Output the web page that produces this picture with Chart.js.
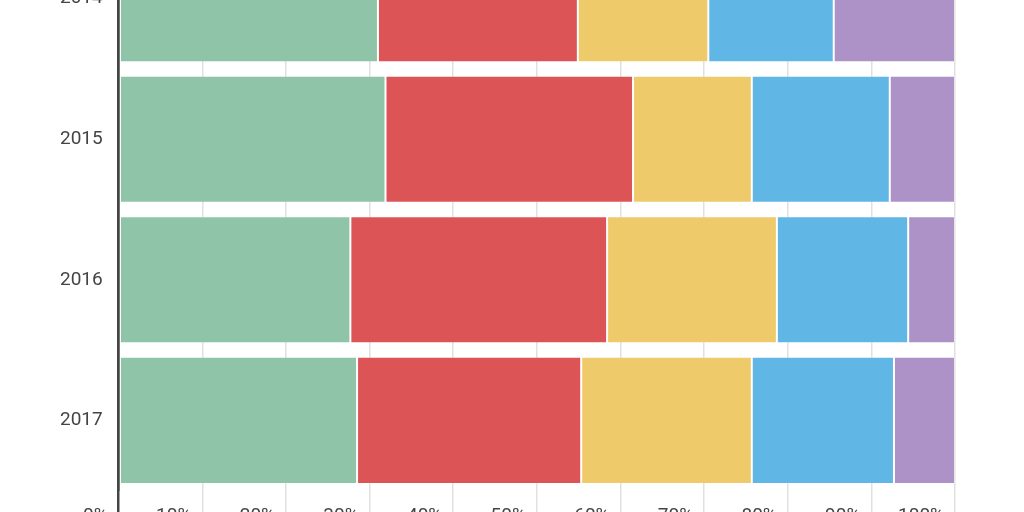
<!DOCTYPE html>
<html>
<head>
<meta charset="utf-8">
<script src="https://cdn.jsdelivr.net/npm/chart.js@4/dist/chart.umd.min.js"></script>
<style>
  html, body { margin: 0; padding: 0; background: #fff; overflow: hidden; }
  #wrap { position: absolute; left: 0; top: -99px; width: 1024px; height: 617px; }
</style>
</head>
<body>
<div id="wrap"><canvas id="chart"></canvas></div>
<script>
const years = ['2014', '2015', '2016', '2017'];

// share of each year, left to right
const greenVals  = [31.0, 31.9, 27.7, 28.5];
const redVals    = [23.9, 29.6, 30.7, 26.8];
const yellowVals = [15.6, 14.2, 20.3, 20.4];
const blueVals   = [15.0, 16.5, 15.7, 17.0];
const purpleVals = [14.5,  7.8,  5.6,  7.3];

const xTicks = [0, 10, 20, 30, 40, 50, 60, 70, 80, 90, 100];

const series = [
  { label: 'A', data: greenVals,  color: '#8fc4a8' },
  { label: 'B', data: redVals,    color: '#dd5456' },
  { label: 'C', data: yellowVals, color: '#eeca6b' },
  { label: 'D', data: blueVals,   color: '#60b6e4' },
  { label: 'E', data: purpleVals, color: '#ad92c8' },
];

Chart.defaults.font.family = 'Roboto, sans-serif';
Chart.defaults.color = '#444';

new Chart(document.getElementById('chart'), {
  type: 'bar',
  data: {
    labels: years,
    datasets: series.map(s => ({
      label: s.label,
      data: s.data,
      backgroundColor: s.color,
      borderColor: 'rgba(255,255,255,0.18)',
      borderWidth: 1,
      borderSkipped: false,
      barPercentage: 0.905,
      categoryPercentage: 1,
    }))
  },
  options: {
    indexAxis: 'y',
    responsive: true,
    maintainAspectRatio: false,
    animation: false,
    layout: { padding: { top: 10, right: 69, left: 44, bottom: 0 } },
    plugins: {
      legend: { display: false },
      tooltip: { enabled: false }
    },
    scales: {
      x: {
        stacked: true,
        min: 0,
        max: 100,
        afterBuildTicks: axis => { axis.ticks = xTicks.map(v => ({ value: v })); },
        ticks: {
          align: 'end',
          labelOffset: -11,
          padding: -11,
          font: { size: 19 },
          callback: v => v + '%'
        },
        grid: {
          // the zero line doubles as the dark left axis, down through the tick area
          color: ctx => (ctx.tick && ctx.tick.value === 0 ? '#444' : '#e0e0e0'),
          lineWidth: ctx => (ctx.tick && ctx.tick.value === 0 ? 2.5 : 1.5),
          tickLength: 25
        },
        border: { display: false }
      },
      y: {
        stacked: true,
        ticks: { padding: 16, font: { size: 19 } },
        grid: { display: false, drawTicks: false },
        border: { color: '#444', width: 2.5 }
      }
    }
  }
});
</script>
</body>
</html>
